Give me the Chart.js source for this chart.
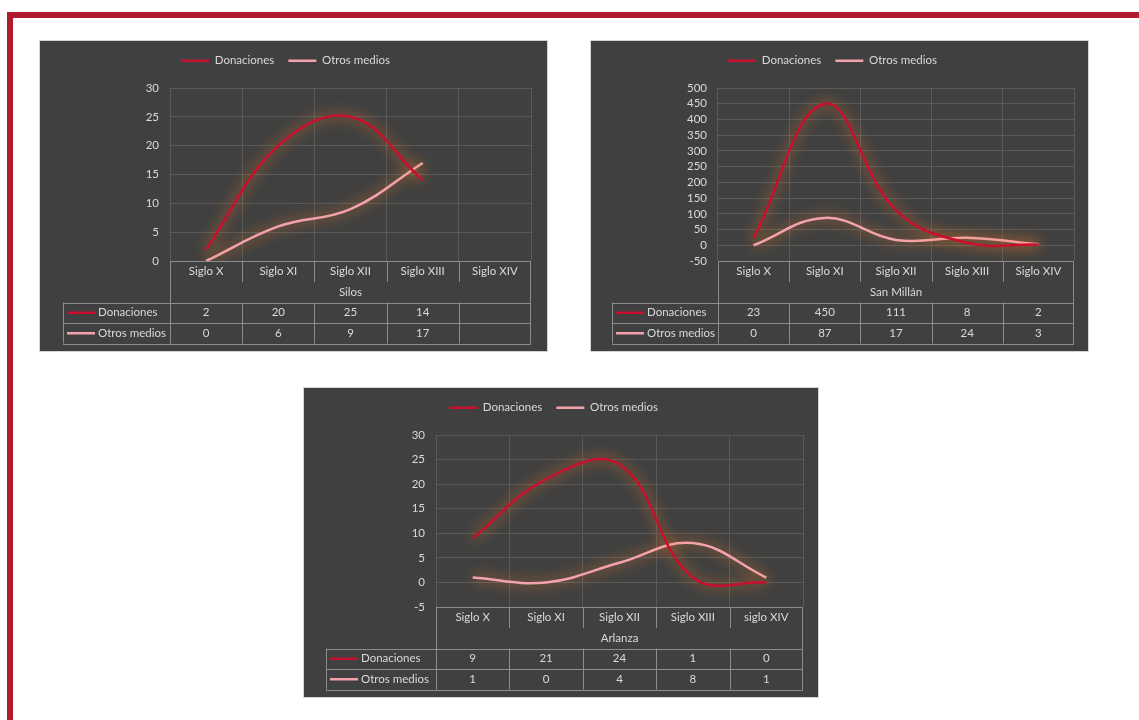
<!DOCTYPE html>
<html>
<head>
<meta charset="utf-8">
<script src="https://cdn.jsdelivr.net/npm/chart.js@4.4.0/dist/chart.umd.min.js"></script>
<style>
  body { margin: 0; background: #fff; width: 1139px; height: 720px; position: relative; overflow: hidden; }
  .marco-top { position: absolute; left: 7px; top: 12px; width: 1132px; height: 6px; background: #b01c2e; }
  .marco-left { position: absolute; left: 7px; top: 12px; width: 6px; height: 708px; background: #b01c2e; }
  .panel { position: absolute; background: #404040; border: 1px solid #d4d4d4; }
</style>
</head>
<body>
<div class="marco-top"></div>
<div class="marco-left"></div>
<div class="panel" style="left:39px; top:40px; width:507px; height:310px;"><canvas id="silos"></canvas></div>
<div class="panel" style="left:590px; top:40px; width:497px; height:310px;"><canvas id="sanmillan"></canvas></div>
<div class="panel" style="left:303px; top:387px; width:514px; height:309px;"><canvas id="arlanza"></canvas></div>

<script>
// datos
var siglos = ['Siglo X', 'Siglo XI', 'Siglo XII', 'Siglo XIII', 'Siglo XIV'];
var siglosArlanza = ['Siglo X', 'Siglo XI', 'Siglo XII', 'Siglo XIII', 'siglo XIV'];
var series = ['Donaciones', 'Otros medios'];

var silosDonaciones = [2, 20, 25, 14, null];
var silosOtros = [0, 6, 9, 17, null];
var sanMillanDonaciones = [23, 450, 111, 8, 2];
var sanMillanOtros = [0, 87, 17, 24, 3];
var arlanzaDonaciones = [9, 21, 24, 1, 0];
var arlanzaOtros = [1, 0, 4, 8, 1];

// min, max, paso del eje y
var silosEje = [0, 30, 5];
var sanMillanEje = [-50, 500, 50];
var arlanzaEje = [-5, 30, 5];

var rojo = '#c8102e';
var rosa = '#f4a3ab';
var texto = '#d9d9d9';
var fuente = { family: 'Lato', size: 11.5 };

// brillo naranja alrededor de las lineas
var brillo = {
    id: 'brillo',
    beforeDatasetDraw: function(chart) {
        chart.ctx.save();
        chart.ctx.shadowColor = 'rgba(255, 130, 40, 1)';
        chart.ctx.shadowBlur = 14;
    },
    afterDatasetDraw: function(chart) {
        chart.ctx.restore();
    }
};

// tabla de datos debajo del grafico, estilo Excel
var tabla = {
    id: 'tabla',
    beforeInit: function(chart) {
        var fit = chart.legend.fit;
        chart.legend.fit = function() {
            fit.call(this);
            this.height = 47;
        };
    },
    afterDraw: function(chart, args, opts) {
        var ctx = chart.ctx;
        var a = chart.chartArea;
        var x = chart.scales.x;
        var labels = chart.data.labels;
        var n = labels.length;
        var w = (a.right - a.left) / n;
        var y0 = a.bottom, y1 = y0 + 21, y2 = y0 + 41.5, y3 = y2 + 20.5, y4 = y3 + 20.5;
        var izq = opts.izq;

        ctx.save();
        ctx.strokeStyle = '#8c8c8c';
        ctx.lineWidth = 1;
        ctx.beginPath();
        ctx.moveTo(a.left, y0 + 0.5); ctx.lineTo(a.right, y0 + 0.5);
        for (var i = 0; i <= n; i++) {
            var bx = Math.round(x.getPixelForValue(i) - w / 2) + 0.5;
            if (i == n) bx = Math.round(x.getPixelForValue(n - 1) + w / 2) - 0.5;
            var baja = (i == 0 || i == n) ? y4 : y1;
            ctx.moveTo(bx, y0); ctx.lineTo(bx, baja);
            ctx.moveTo(bx, y2); ctx.lineTo(bx, y4);
        }
        [y2, y3, y4].forEach(function(yy) {
            ctx.moveTo(izq, Math.round(yy) + 0.5); ctx.lineTo(a.right, Math.round(yy) + 0.5);
        });
        ctx.moveTo(izq + 0.5, y2); ctx.lineTo(izq + 0.5, y4);
        ctx.stroke();

        ctx.fillStyle = texto;
        ctx.font = '11.5px Lato';
        ctx.textAlign = 'center';
        ctx.textBaseline = 'middle';
        labels.forEach(function(l, i) {
            ctx.fillText(l, x.getPixelForValue(i), y0 + 10);
        });
        ctx.fillText(opts.titulo, (a.left + a.right) / 2, y1 + 10);

        chart.data.datasets.forEach(function(ds, k) {
            var yy = k == 0 ? (y2 + y3) / 2 : (y3 + y4) / 2;
            ctx.strokeStyle = ds.borderColor;
            ctx.lineWidth = 2.5;
            ctx.beginPath();
            ctx.moveTo(izq + 4, yy); ctx.lineTo(izq + 32, yy);
            ctx.stroke();
            ctx.textAlign = 'left';
            ctx.fillText(ds.label, izq + 35, yy);
            ctx.textAlign = 'center';
            ds.data.forEach(function(v, i) {
                if (v !== null) ctx.fillText(String(v), x.getPixelForValue(i), yy);
            });
        });
        ctx.restore();
    }
};

function grafico(id, titulo, labels, donaciones, otros, eje, izqY, der, izqTabla) {
    return new Chart(document.getElementById(id), {
        type: 'line',
        data: {
            labels: labels,
            datasets: [{
                label: series[0],
                data: donaciones,
                borderColor: rojo,
                backgroundColor: rojo,
                borderWidth: 2.5,
                pointRadius: 0,
                tension: 0.4
            }, {
                label: series[1],
                data: otros,
                borderColor: rosa,
                backgroundColor: rosa,
                borderWidth: 2.5,
                pointRadius: 0,
                tension: 0.4
            }]
        },
        options: {
            responsive: true,
            maintainAspectRatio: false,
            animation: false,
            layout: { padding: { top: 0, left: 0, right: der, bottom: 7 } },
            plugins: {
                legend: {
                    labels: {
                        color: texto,
                        font: fuente,
                        usePointStyle: true,
                        pointStyle: 'line',
                        pointStyleWidth: 28,
                        padding: 14
                    }
                },
                tooltip: { enabled: false },
                tabla: { titulo: titulo, izq: izqTabla }
            },
            scales: {
                x: {
                    offset: true,
                    grid: { offset: true, color: '#5a5a5a', drawTicks: false },
                    border: { display: false },
                    ticks: { display: false },
                    afterFit: function(scale) { scale.height = 83; }
                },
                y: {
                    min: eje[0],
                    max: eje[1],
                    grid: { color: '#5a5a5a', drawTicks: false },
                    border: { display: false },
                    ticks: { stepSize: eje[2], autoSkip: false, color: texto, font: fuente, padding: 11 },
                    afterFit: function(scale) { scale.width = izqY; }
                }
            }
        },
        plugins: [brillo, tabla]
    });
}

grafico('silos', 'Silos', siglos, silosDonaciones, silosOtros, silosEje, 130, 16, 23);
grafico('sanmillan', 'San Millán', siglos, sanMillanDonaciones, sanMillanOtros, sanMillanEje, 127, 14, 21);
grafico('arlanza', 'Arlanza', siglosArlanza, arlanzaDonaciones, arlanzaOtros, arlanzaEje, 132, 15, 22);
</script>
</body>
</html>
